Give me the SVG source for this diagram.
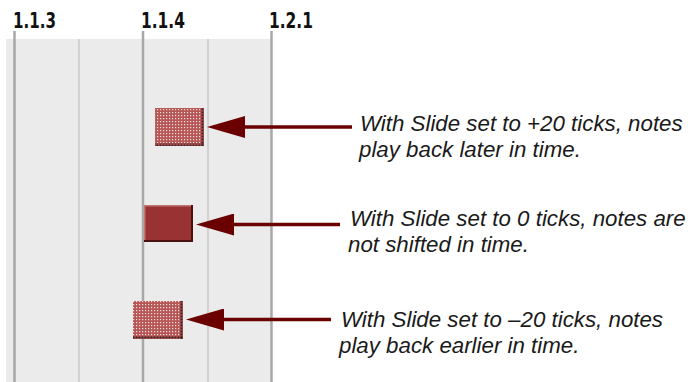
<svg xmlns="http://www.w3.org/2000/svg" width="696" height="382" viewBox="0 0 696 382">
  <style>
    .tick-label { font-family: "DejaVu Sans Condensed", "DejaVu Sans", sans-serif; font-weight: bold; font-size: 22px; fill: #111; }
    .note-text { font-family: "Liberation Sans", Arial, sans-serif; font-style: italic; font-size: 22.3px; fill: #1a1a1a; }
    .major { stroke: #a8a8a8; stroke-width: 2.5; }
    .minor { stroke: #d2d2d2; stroke-width: 2; }
    .arrow { stroke: #6b0000; stroke-width: 3.5; fill: none; marker-end: url(#head); }
  </style>
  <defs>
    <marker id="head" viewBox="0 0 38 22" refX="28" refY="11" markerWidth="38" markerHeight="22" markerUnits="userSpaceOnUse" orient="auto">
      <path d="M0,0 L38,11 L0,22 Z" fill="#6b0000"/>
    </marker>
    <pattern id="dots" x="0" y="0" width="3" height="3" patternUnits="userSpaceOnUse">
      <rect width="3" height="3" fill="#b85656"/>
      <rect x="1" y="1" width="1.2" height="1.2" fill="#f6e2e2"/>
    </pattern>
    <pattern id="darkdots" x="0" y="0" width="3" height="3" patternUnits="userSpaceOnUse">
      <rect x="0.5" y="0.5" width="2" height="2" fill="#3a1c1c"/>
    </pattern>
  </defs>

  <g id="timeline">
    <rect x="6" y="39" width="266" height="343" fill="#ebebeb"/>
    <line class="minor" x1="79" y1="39" x2="79" y2="382"/>
    <line class="minor" x1="208" y1="39" x2="208" y2="382"/>
    <line class="major" x1="14.5" y1="31" x2="14.5" y2="382"/>
    <line class="major" x1="143" y1="31" x2="143" y2="382"/>
    <line class="major" x1="271.5" y1="31" x2="271.5" y2="382"/>
    <text class="tick-label" x="13" y="28" textLength="43" lengthAdjust="spacingAndGlyphs">1.1.3</text>
    <text class="tick-label" x="141" y="28" textLength="44" lengthAdjust="spacingAndGlyphs">1.1.4</text>
    <text class="tick-label" x="269" y="28" textLength="44" lengthAdjust="spacingAndGlyphs">1.2.1</text>
  </g>

  <g id="note-plus20">
    <rect x="155" y="108" width="49" height="38" fill="url(#dots)"/>
    <rect x="155" y="143" width="49" height="3" fill="url(#darkdots)"/>
    <rect x="201" y="108" width="3" height="38" fill="url(#darkdots)"/>
  </g>

  <g id="note-zero">
    <rect x="144" y="205" width="49" height="37" fill="#993333"/>
    <rect x="144" y="205" width="49" height="1.5" fill="#c07575"/>
    <rect x="144" y="205" width="1.5" height="37" fill="#c07575"/>
    <rect x="144" y="240" width="49" height="2" fill="#4a1010"/>
    <rect x="191" y="205" width="2" height="37" fill="#4a1010"/>
  </g>

  <g id="note-minus20">
    <rect x="133" y="301" width="50" height="38" fill="url(#dots)"/>
    <rect x="133" y="336" width="50" height="3" fill="url(#darkdots)"/>
    <rect x="180" y="301" width="3" height="38" fill="url(#darkdots)"/>
  </g>

  <g id="connectors">
    <line class="arrow" x1="352" y1="127" x2="217" y2="127"/>
    <line class="arrow" x1="340" y1="224.5" x2="206" y2="224.5"/>
    <line class="arrow" x1="331" y1="319.5" x2="196" y2="319.5"/>
  </g>

  <g id="label-plus20">
    <text class="note-text" x="360" y="131">With Slide set to +20 ticks, notes</text>
    <text class="note-text" x="359" y="157">play back later in time.</text>
  </g>
  <g id="label-zero">
    <text class="note-text" x="350" y="226">With Slide set to 0 ticks, notes are</text>
    <text class="note-text" x="348" y="252">not shifted in time.</text>
  </g>
  <g id="label-minus20">
    <text class="note-text" x="341" y="327">With Slide set to –20 ticks, notes</text>
    <text class="note-text" x="339" y="353">play back earlier in time.</text>
  </g>
</svg>
